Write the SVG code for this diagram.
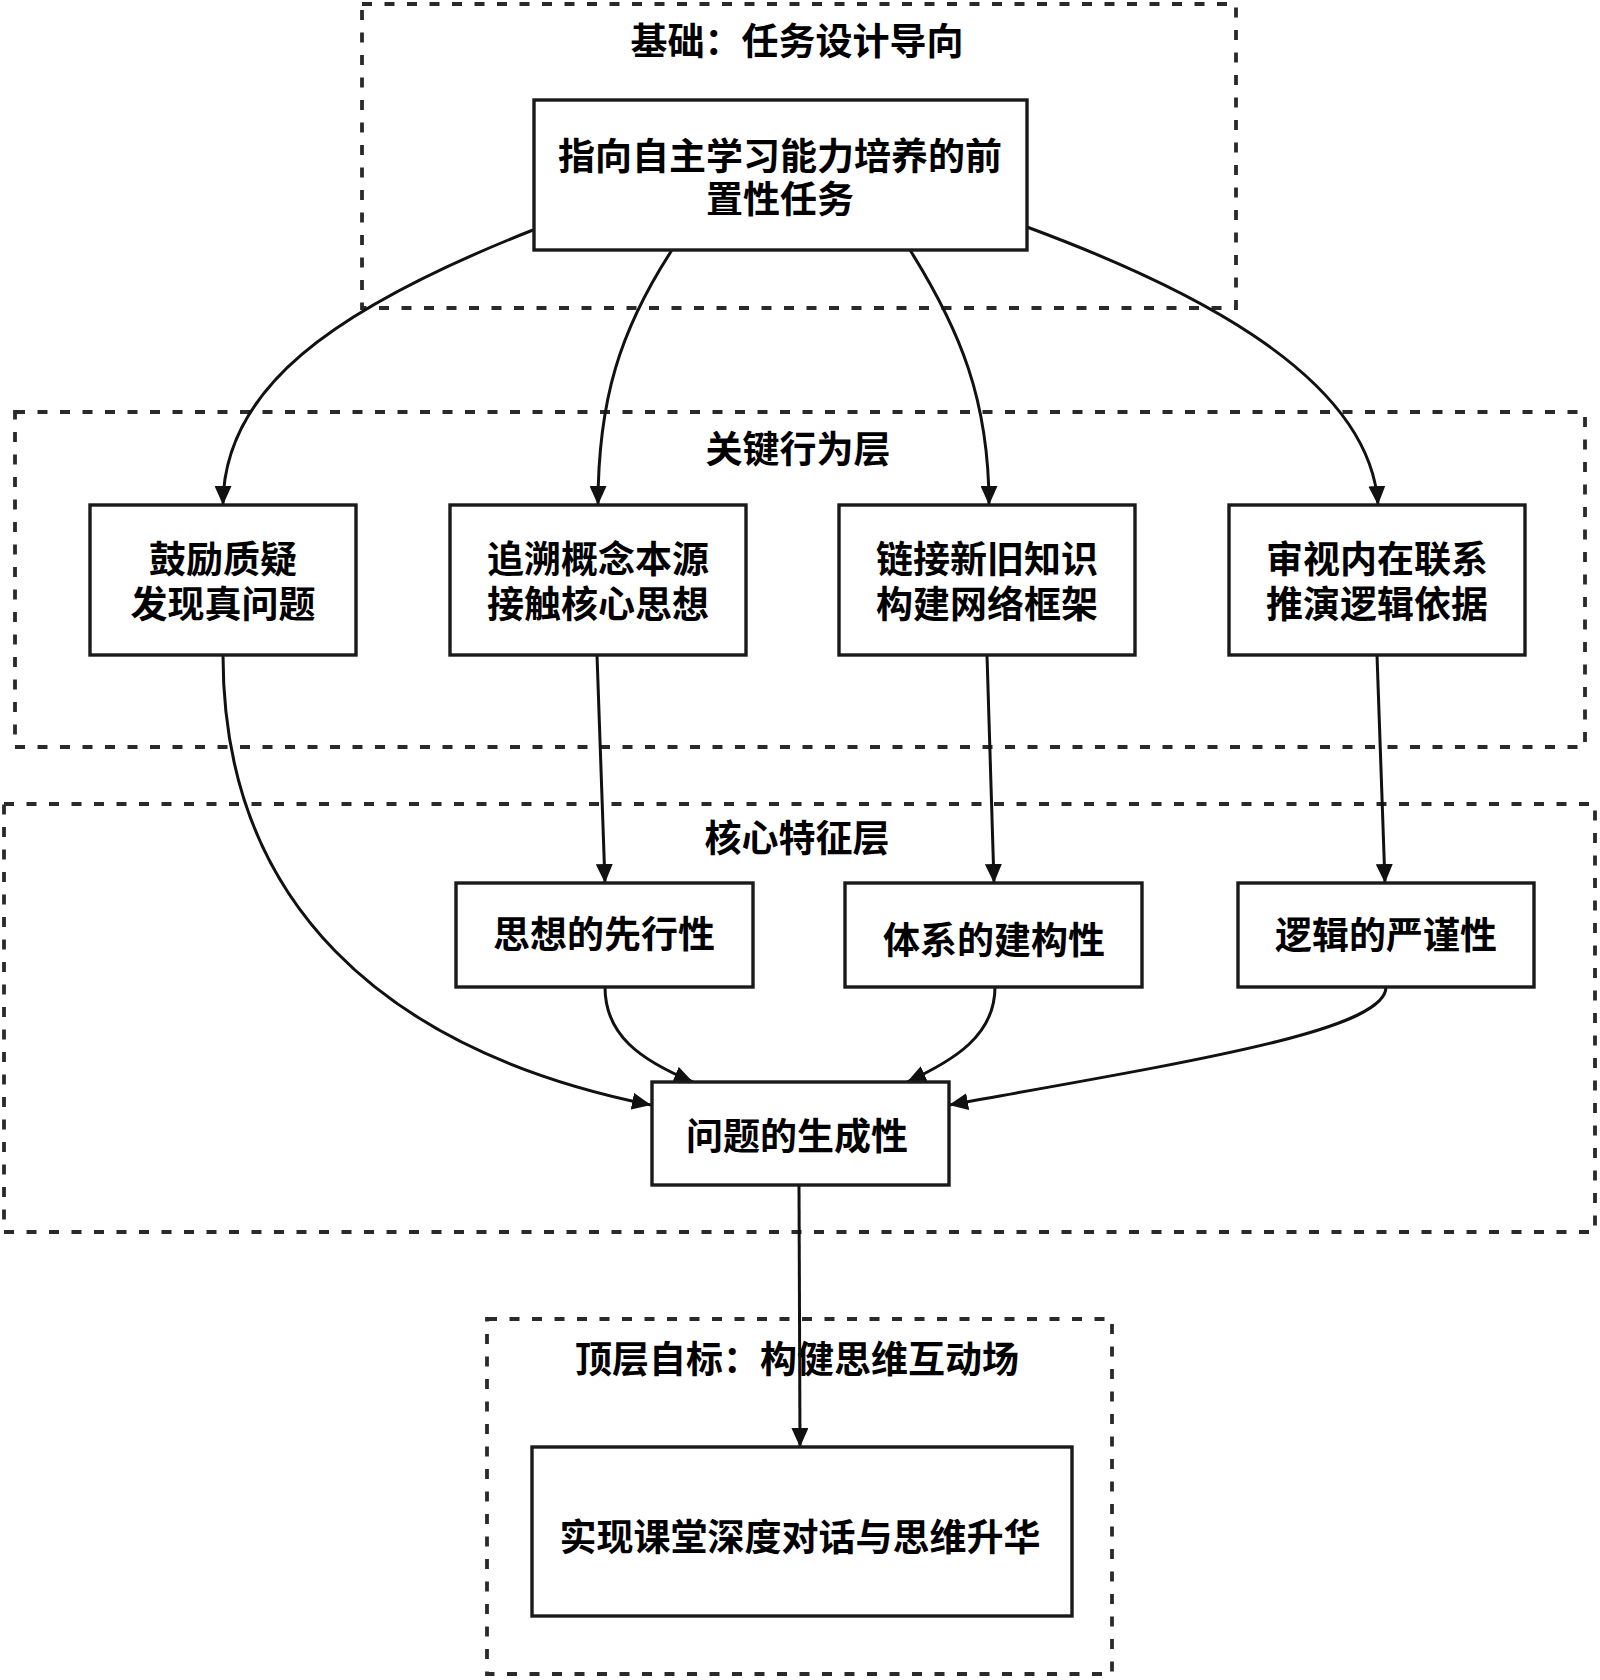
<svg xmlns="http://www.w3.org/2000/svg" width="1600" height="1680" viewBox="0 0 1600 1680">
<style>
.cluster{fill:none;stroke:#2a2a2a;stroke-width:3.8;stroke-dasharray:10 12.5}
.node{fill:#fff;stroke:#1a1a1a;stroke-width:3.4}
.t{font-family:"Noto Sans CJK SC","Noto Sans",sans-serif;font-weight:700;font-size:37px;fill:#000;text-anchor:middle;dominant-baseline:central}
.e{fill:none;stroke:#111;stroke-width:3;marker-end:url(#arr)}
</style>
<defs>
<marker id="arr" markerUnits="userSpaceOnUse" markerWidth="19" markerHeight="17" refX="19" refY="8.5" orient="auto" viewBox="0 0 19 17">
<path d="M0,0 L19,8.5 L0,17 Z" fill="#111"/>
</marker>
</defs>
<rect width="1600" height="1680" fill="#fff"/>
<g id="cluster-foundation">
<rect class="cluster" x="362" y="4" width="874" height="304"/>
<text class="t" x="797" y="39">基础：任务设计导向</text>
</g>
<g id="cluster-behavior">
<rect class="cluster" x="15" y="412" width="1570" height="335"/>
<text class="t" x="798" y="447">关键行为层</text>
</g>
<g id="cluster-core">
<rect class="cluster" x="4" y="804" width="1591" height="428"/>
<text class="t" x="797" y="836">核心特征层</text>
</g>
<g id="cluster-goal">
<rect class="cluster" x="487" y="1319" width="625" height="355"/>
<text class="t" x="797" y="1357">顶层自标：构健思维互动场</text>
</g>
<g id="connectors">
<path class="e" d="M533,230 C330,310 223,390 223,505"/>
<path class="e" d="M672,250 C620,330 598,400 598,505"/>
<path class="e" d="M910,250 C960,330 989,400 989,505"/>
<path class="e" d="M1027,227 C1170,280 1370,370 1378,505"/>
<path class="e" d="M223,655 C223,900 380,1050 651,1105"/>
<path class="e" d="M597,655 L605,883"/>
<path class="e" d="M987,655 L994,883"/>
<path class="e" d="M1377,655 L1385,883"/>
<path class="e" d="M605,987 C605,1035 640,1060 693,1082"/>
<path class="e" d="M995,987 C995,1035 955,1060 907,1082"/>
<path class="e" d="M1386,987 C1386,1030 1200,1060 949,1105"/>
<path class="e" d="M799,1185 L800,1447"/>
</g>
<g id="node-task">
<rect class="node" x="534" y="100" width="493" height="150"/>
<text class="t"><tspan x="780" y="154">指向自主学习能力培养的前</tspan><tspan x="780" y="197">置性任务</tspan></text>
</g>
<g id="node-question">
<rect class="node" x="90" y="505" width="266" height="150"/>
<text class="t"><tspan x="223" y="557">鼓励质疑</tspan><tspan x="223" y="602">发现真问题</tspan></text>
</g>
<g id="node-trace">
<rect class="node" x="450" y="505" width="296" height="150"/>
<text class="t"><tspan x="598" y="557">追溯概念本源</tspan><tspan x="598" y="602">接触核心思想</tspan></text>
</g>
<g id="node-link">
<rect class="node" x="839" y="505" width="296" height="150"/>
<text class="t"><tspan x="987" y="557">链接新旧知识</tspan><tspan x="987" y="602">构建网络框架</tspan></text>
</g>
<g id="node-examine">
<rect class="node" x="1229" y="505" width="296" height="150"/>
<text class="t"><tspan x="1377" y="557">审视内在联系</tspan><tspan x="1377" y="602">推演逻辑依据</tspan></text>
</g>
<g id="node-thought">
<rect class="node" x="456" y="883" width="297" height="104"/>
<text class="t" x="604" y="932">思想的先行性</text>
</g>
<g id="node-system">
<rect class="node" x="845" y="883" width="297" height="104"/>
<text class="t" x="994" y="938">体系的建构性</text>
</g>
<g id="node-logic">
<rect class="node" x="1238" y="883" width="296" height="104"/>
<text class="t" x="1386" y="933">逻辑的严谨性</text>
</g>
<g id="node-generate">
<rect class="node" x="652" y="1082" width="297" height="103"/>
<text class="t" x="797" y="1134">问题的生成性</text>
</g>
<g id="node-goal">
<rect class="node" x="532" y="1447" width="540" height="169"/>
<text class="t" x="800" y="1535">实现课堂深度对话与思维升华</text>
</g>
</svg>
